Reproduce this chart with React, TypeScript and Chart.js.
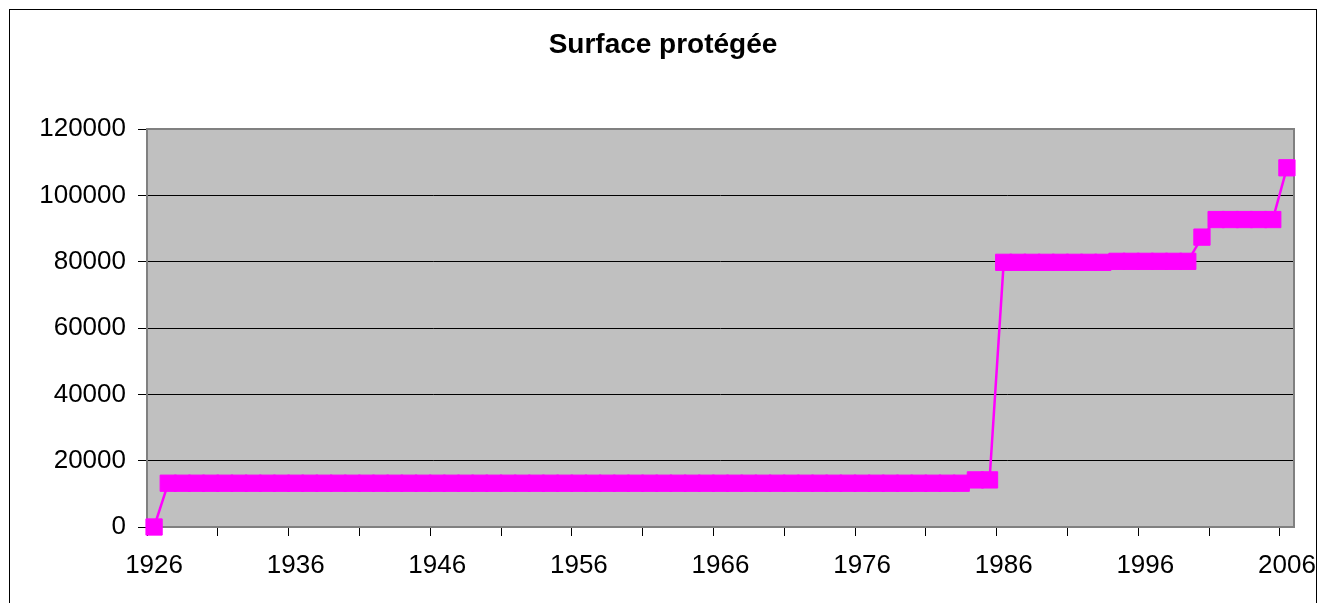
import React, { useEffect, useRef } from 'react';
import { Chart, registerables } from 'chart.js';

Chart.register(...registerables);

const TITLE = 'Surface protégée';
const FIRST_YEAR = 1926;
const LAST_YEAR = 2006;
const YEARS: string[] = [];
for (let y = FIRST_YEAR; y <= LAST_YEAR; y++) YEARS.push(String(y));

// Protected surface per year, 1926 .. 2006 (one row per decade)
const SURFACE: number[] = [
  0, 13200, 13200, 13200, 13200, 13200, 13200, 13200, 13200, 13200, // 1926-1935
  13200, 13200, 13200, 13200, 13200, 13200, 13200, 13200, 13200, 13200, // 1936-1945
  13200, 13200, 13200, 13200, 13200, 13200, 13200, 13200, 13200, 13200, // 1946-1955
  13200, 13200, 13200, 13200, 13200, 13200, 13200, 13200, 13200, 13200, // 1956-1965
  13200, 13200, 13200, 13200, 13200, 13200, 13200, 13200, 13200, 13200, // 1966-1975
  13200, 13200, 13200, 13200, 13200, 13200, 13200, 13200, 14200, 14200, // 1976-1985
  79800, 79800, 79800, 79800, 79800, 79800, 79800, 79800, 80100, 80100, // 1986-1995
  80100, 80100, 80100, 80100, 87400, 92700, 92700, 92700, 92700, 92700, // 1996-2005
  108300, // 2006
];

const Y_MIN = 0;
const Y_MAX = 120000;
const Y_STEP = 20000;
const LABEL_EVERY = 10;
const TICK_EVERY = 5;

const FONT = '"Liberation Sans", Arial, sans-serif';

const framePlugin = {
  id: 'frame',
  beforeDraw(chart: any) {
    const { ctx, chartArea: a } = chart;
    ctx.save();
    ctx.fillStyle = '#ffffff';
    ctx.fillRect(0, 0, chart.width, chart.height);
    ctx.strokeStyle = '#000000';
    ctx.lineWidth = 1;
    ctx.strokeRect(9.5, 9.5, 1307, 700);
    ctx.fillStyle = '#C0C0C0';
    ctx.fillRect(a.left, a.top, a.right - a.left, a.bottom - a.top);
    ctx.restore();
  },
  beforeDatasetsDraw(chart: any) {
    const { ctx, chartArea: a } = chart;
    ctx.save();
    ctx.strokeStyle = '#808080';
    ctx.lineWidth = 2;
    ctx.strokeRect(a.left, a.top, a.right - a.left, a.bottom - a.top);
    ctx.restore();
  },
};

export default function App() {
  const ref = useRef<HTMLCanvasElement>(null);

  useEffect(() => {
    if (!ref.current) return;
    const chart = new Chart(ref.current, {
      type: 'line',
      data: {
        labels: YEARS,
        datasets: [
          {
            label: TITLE,
            data: SURFACE,
            borderColor: '#FF00FF',
            backgroundColor: '#FF00FF',
            borderWidth: 2.5,
            pointStyle: 'rect',
            pointRadius: 11.5,
            pointBorderWidth: 1,
            pointBackgroundColor: '#FF00FF',
            pointBorderColor: '#FF00FF',
            tension: 0,
            clip: false as any,
          },
        ],
      },
      options: {
        responsive: false,
        animation: false,
        layout: { padding: { left: 32, right: 37, top: 0, bottom: 16 } },
        plugins: {
          legend: { display: false },
          tooltip: { enabled: false },
          title: {
            display: true,
            text: TITLE,
            color: '#000000',
            font: { family: FONT, size: 28, weight: 'bold' },
            padding: { top: 28, bottom: 67.4 },
          },
        },
        scales: {
          x: {
            type: 'category',
            offset: true,
            afterFit: (scale: any) => {
              scale.height = 60;
            },
            border: { display: false },
            grid: {
              offset: true,
              drawOnChartArea: false,
              drawTicks: true,
              tickLength: 9,
              lineWidth: 1,
              color: (c: any) => (c.index % TICK_EVERY === 0 ? '#000000' : 'rgba(0,0,0,0)'),
            },
            ticks: {
              autoSkip: false,
              maxRotation: 0,
              minRotation: 0,
              padding: 14,
              color: '#000000',
              font: { family: FONT, size: 26 },
              callback: (_v: any, i: number) => (i % LABEL_EVERY === 0 ? YEARS[i] : ''),
            },
          },
          y: {
            min: Y_MIN,
            max: Y_MAX,
            afterFit: (scale: any) => {
              scale.width = 115;
            },
            border: { display: false },
            grid: {
              color: '#000000',
              lineWidth: 1,
              drawTicks: true,
              tickLength: 9,
            },
            ticks: {
              stepSize: Y_STEP,
              padding: 12,
              color: '#000000',
              font: { family: FONT, size: 26 },
              callback: (v: any) => String(v),
            },
          },
        },
      },
      plugins: [framePlugin],
    });
    return () => chart.destroy();
  }, []);

  return (
    <div style={{ position: 'absolute', left: 0, top: 0, width: 1331, height: 603 }}>
      <canvas ref={ref} width={1331} height={603} style={{ display: 'block' }} />
    </div>
  );
}
